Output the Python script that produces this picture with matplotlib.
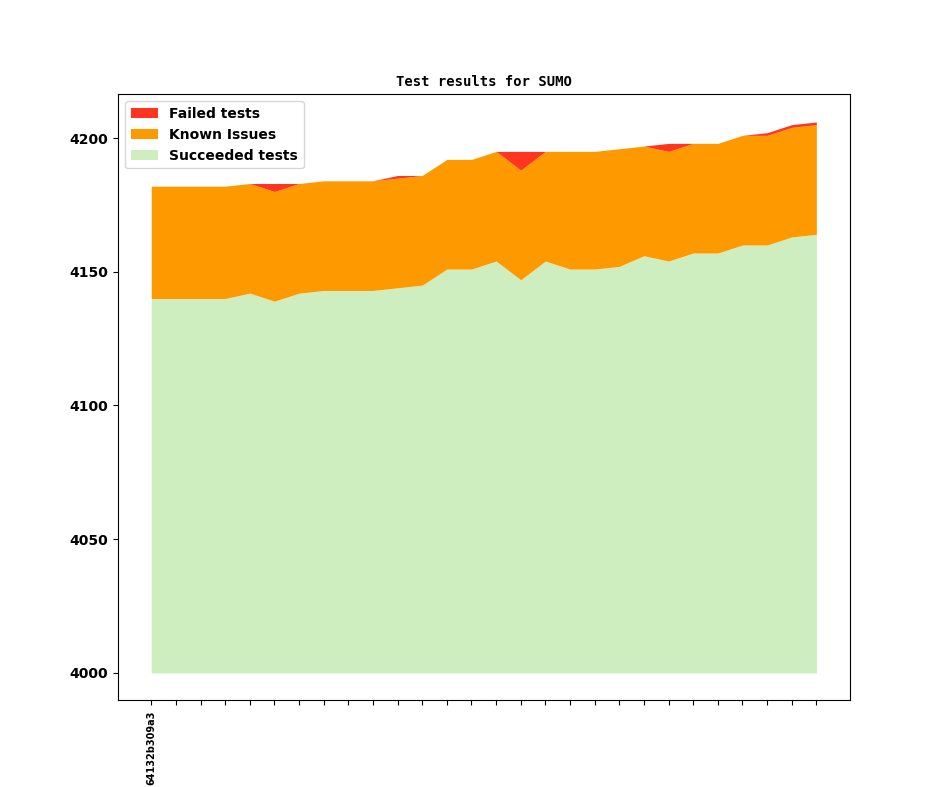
import numpy as np
import matplotlib
matplotlib.use("Agg")
import matplotlib.pyplot as plt

# test counts per build
succeeded = [4140, 4140, 4140, 4140, 4142, 4139, 4142, 4143, 4143, 4143,
             4144, 4145, 4151, 4151, 4154, 4147, 4154, 4151, 4151, 4152,
             4156, 4154, 4157, 4157, 4160, 4160, 4163, 4164]
known = [42, 42, 42, 42, 41, 41, 41, 41, 41, 41,
         41, 41, 41, 41, 41, 41, 41, 44, 44, 44,
         41, 41, 41, 41, 41, 41, 41, 41]
failed = [0, 0, 0, 0, 0, 3, 0, 0, 0, 0,
          1, 0, 0, 0, 0, 7, 0, 0, 0, 0,
          0, 3, 0, 0, 0, 1, 1, 1]
commits = ["64132b309a3"] + [""] * 27
base = 4000

x = np.arange(len(succeeded))
s = np.array(succeeded)
k = s + np.array(known)
f = k + np.array(failed)

fig, ax = plt.subplots(figsize=(9.44, 7.87), dpi=100)
p_s = ax.fill_between(x, base, s, color="#ceeebf", linewidth=0, label="Succeeded tests")
p_k = ax.fill_between(x, s, k, color="#ff9900", linewidth=0, label="Known Issues")
p_f = ax.fill_between(x, k, f, color="#ff3520", linewidth=0, label="Failed tests")

ax.set_xticks(x)
ax.set_xticklabels(commits, rotation=90, fontsize=7, fontweight="bold")
ax.set_yticks([4000, 4050, 4100, 4150, 4200])
ax.set_yticklabels(["4000", "4050", "4100", "4150", "4200"], fontweight="bold")

ax.set_title("Test results for SUMO", family="DejaVu Sans Mono", fontweight="bold", fontsize=10)
ax.legend(handles=[p_f, p_k, p_s], loc="upper left", prop={"weight": "bold"})

plt.savefig("out.png")
plt.close()
